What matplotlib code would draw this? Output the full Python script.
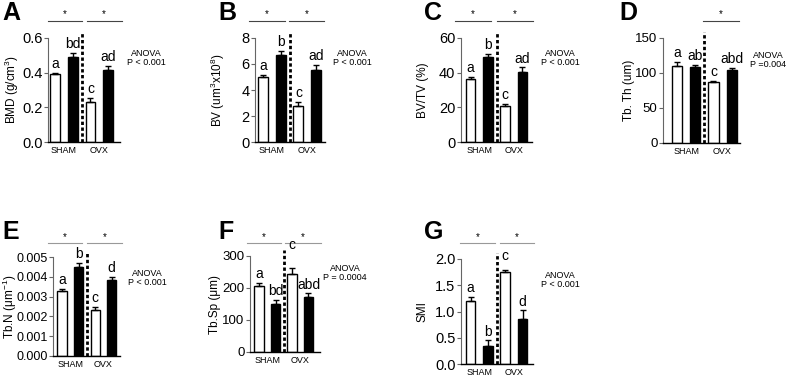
import numpy as np
import matplotlib
matplotlib.use('Agg')
import matplotlib.pyplot as plt
import matplotlib.transforms as mtransforms
from matplotlib.ticker import FormatStrFormatter

plt.rcParams['font.family'] = ['Liberation Sans', 'DejaVu Sans']
plt.rcParams['mathtext.fontset'] = 'custom'
plt.rcParams['mathtext.rm'] = 'Liberation Sans'

W, H = 788, 376

groups = ['SHAM', 'OVX']

# bar order: SHAM white, SHAM black, OVX white, OVX black
bmd_mean = [0.39, 0.49, 0.23, 0.415]
bmd_err = [0.01, 0.025, 0.025, 0.025]
bmd_letters = ['a', 'bd', 'c', 'ad']

bv_mean = [5.0, 6.7, 2.8, 5.55]
bv_err = [0.15, 0.3, 0.3, 0.4]
bv_letters = ['a', 'b', 'c', 'ad']

bvtv_mean = [36.5, 49.0, 20.5, 40.5]
bvtv_err = [1.0, 2.0, 1.5, 2.5]
bvtv_letters = ['a', 'b', 'c', 'ad']

tbth_mean = [110, 108, 87, 104]
tbth_err = [6, 3, 2, 3]
tbth_letters = ['a', 'ab', 'c', 'abd']

tbn_mean = [0.0033, 0.0045, 0.0023, 0.00385]
tbn_err = [0.0001, 0.0002, 0.0002, 0.00015]
tbn_letters = ['a', 'b', 'c', 'd']

tbsp_mean = [205, 150, 245, 173]
tbsp_err = [12, 12, 18, 10]
tbsp_letters = ['a', 'bd', 'c', 'abd']

smi_mean = [1.2, 0.35, 1.75, 0.85]
smi_err = [0.07, 0.1, 0.05, 0.17]
smi_letters = ['a', 'b', 'c', 'd']

anova_p = ['P < 0.001', 'P < 0.001', 'P < 0.001', 'P =0.004',
           'P < 0.001', 'P = 0.0004', 'P < 0.001']

# panel layout (pixels): left, top, right, bottom ; xlim ; sig-line spans
panels = [
    dict(tag='A', mean=bmd_mean, err=bmd_err, letters=bmd_letters,
         ylabel='BMD (g/cm$^3$)', yticks=[0, 0.2, 0.4, 0.6], fmt='%.1f',
         rect=(48, 38, 120, 142), xlim=(-0.4, 3.67), tick_fs=10.5, label_x=12,
         sig=[(-0.41, 1.5), (1.79, 3.77)], sig_y=1.165, sig_c='#444',
         tag_xy=(2, 1), anova_xy=(146, 58)),
    dict(tag='B', mean=bv_mean, err=bv_err, letters=bv_letters,
         ylabel='BV (um$^3$x10$^8$)', yticks=[0, 2, 4, 6, 8], fmt='%d',
         rect=(255, 38, 325, 142), xlim=(-0.45, 3.5), tick_fs=10.5, label_x=218,
         sig=[(-0.8, 1.25), (1.47, 3.45)], sig_y=1.165, sig_c='#444',
         tag_xy=(218, 1), anova_xy=(352, 58)),
    dict(tag='C', mean=bvtv_mean, err=bvtv_err, letters=bvtv_letters,
         ylabel='BV/TV (%)', yticks=[0, 20, 40, 60], fmt='%d',
         rect=(461, 38, 532, 142), xlim=(-0.55, 3.55), tick_fs=10.5, label_x=423,
         sig=[(-0.9, 1.18), (1.53, 3.6)], sig_y=1.165, sig_c='#444',
         tag_xy=(424, 1), anova_xy=(560, 58)),
    dict(tag='D', mean=tbth_mean, err=tbth_err, letters=tbth_letters,
         ylabel='Tb. Th (um)', yticks=[0, 50, 100, 150], fmt='%d',
         rect=(663, 38, 740, 143), xlim=(-0.77, 3.46), tick_fs=9.5, label_x=629,
         sig=[(1.43, 3.4)], sig_y=1.165, sig_c='#444',
         tag_xy=(619, 1), anova_xy=(768, 60)),
    dict(tag='E', mean=tbn_mean, err=tbn_err, letters=tbn_letters,
         ylabel='Tb.N (\u03bcm$^{-1}$)', yticks=[0, 0.001, 0.002, 0.003, 0.004, 0.005],
         fmt='%.3f',
         rect=(53, 257, 120, 356), xlim=(-0.55, 3.5), tick_fs=9, label_x=10,
         sig=[(-0.85, 1.2), (1.5, 3.6)], sig_y=1.14, sig_c='#999',
         tag_xy=(2, 220), anova_xy=(147, 278)),
    dict(tag='F', mean=tbsp_mean, err=tbsp_err, letters=tbsp_letters,
         ylabel='Tb.Sp (\u03bcm)', yticks=[0, 100, 200, 300], fmt='%d',
         rect=(250, 256, 320, 352), xlim=(-0.55, 3.7), tick_fs=9.5, label_x=215,
         sig=[(-0.75, 1.33), (1.6, 3.75)], sig_y=1.135, sig_c='#999',
         tag_xy=(218, 220), anova_xy=(345, 273)),
    dict(tag='G', mean=smi_mean, err=smi_err, letters=smi_letters,
         ylabel='SMI', yticks=[0, 0.5, 1.0, 1.5, 2.0], fmt='%.1f',
         rect=(461, 259, 533, 364), xlim=(-0.55, 3.6), tick_fs=10.5, label_x=422,
         sig=[(-0.6, 1.4), (1.7, 3.66)], sig_y=1.15, sig_c='#999',
         tag_xy=(424, 220), anova_xy=(560, 280)),
]

# extra lift for a few letters that sit higher in the original
letter_lift = {('F', 2): 10, ('G', 2): 3}

bar_colors = ['white', 'black', 'white', 'black']
x = np.arange(4)

fig = plt.figure(figsize=(W / 100, H / 100), dpi=100)

for i, p in enumerate(panels):
    l, t, r, b = p['rect']
    ax = fig.add_axes([l / W, 1 - b / H, (r - l) / W, (b - t) / H])

    ax.bar(x, p['mean'], width=0.56, color=bar_colors, edgecolor='black',
           linewidth=1, zorder=2)
    ax.errorbar(x, p['mean'], yerr=[np.zeros(4), p['err']], fmt='none',
                ecolor='black', elinewidth=1, capsize=2.5, capthick=1, zorder=3)

    for j in range(4):
        top = p['mean'][j] + p['err'][j]
        lift = letter_lift.get((p['tag'], j), 0)
        ax.annotate(p['letters'][j], (x[j], top), xytext=(0, 3.5 + lift),
                    textcoords='offset points', ha='center', va='baseline',
                    fontsize=10, annotation_clip=False)

    ymax = p['yticks'][-1]
    ax.set_ylim(0, ymax)
    ax.set_xlim(*p['xlim'])
    ax.set_yticks(p['yticks'])
    ax.yaxis.set_major_formatter(FormatStrFormatter(p['fmt']))
    ax.set_xticks([0.5, 2.5])
    ax.set_xticklabels(groups, fontsize=6.5)
    ax.tick_params(axis='x', length=0, pad=3)
    ax.tick_params(axis='y', length=3, width=0.8, pad=1, labelsize=p['tick_fs'],
                   color='#666')
    ax.set_ylabel(p['ylabel'], fontsize=8.5)
    ax.yaxis.set_label_coords((p['label_x'] - l) / (r - l), 0.5)
    ax.yaxis.label.set_va('center')

    for s in ['top', 'right']:
        ax.spines[s].set_visible(False)
    ax.spines['left'].set_color('#666')
    ax.spines['left'].set_linewidth(0.8)
    ax.spines['bottom'].set_linewidth(1.0)

    trans = mtransforms.blended_transform_factory(ax.transData, ax.transAxes)
    ax.plot([1.5, 1.5], [0, 1.06], transform=trans, color='black', lw=2,
            dashes=(1.2, 0.9), clip_on=False, zorder=4)

    for x0, x1 in p['sig']:
        ax.plot([x0, x1], [p['sig_y'], p['sig_y']], transform=trans,
                color=p['sig_c'], lw=0.8, clip_on=False)
        ax.text((x0 + x1) / 2, p['sig_y'] + 0.015, '*', transform=trans,
                ha='center', va='bottom', fontsize=7)

    tx, ty = p['tag_xy']
    fig.text(tx / W, 1 - ty / H, p['tag'], fontsize=18, fontweight='bold',
             ha='left', va='top')
    axx, axy = p['anova_xy']
    fig.text(axx / W, 1 - axy / H, 'ANOVA\n' + anova_p[i], fontsize=6.5,
             ha='center', va='center', linespacing=1.1)

fig.savefig('out.png', dpi=100)
